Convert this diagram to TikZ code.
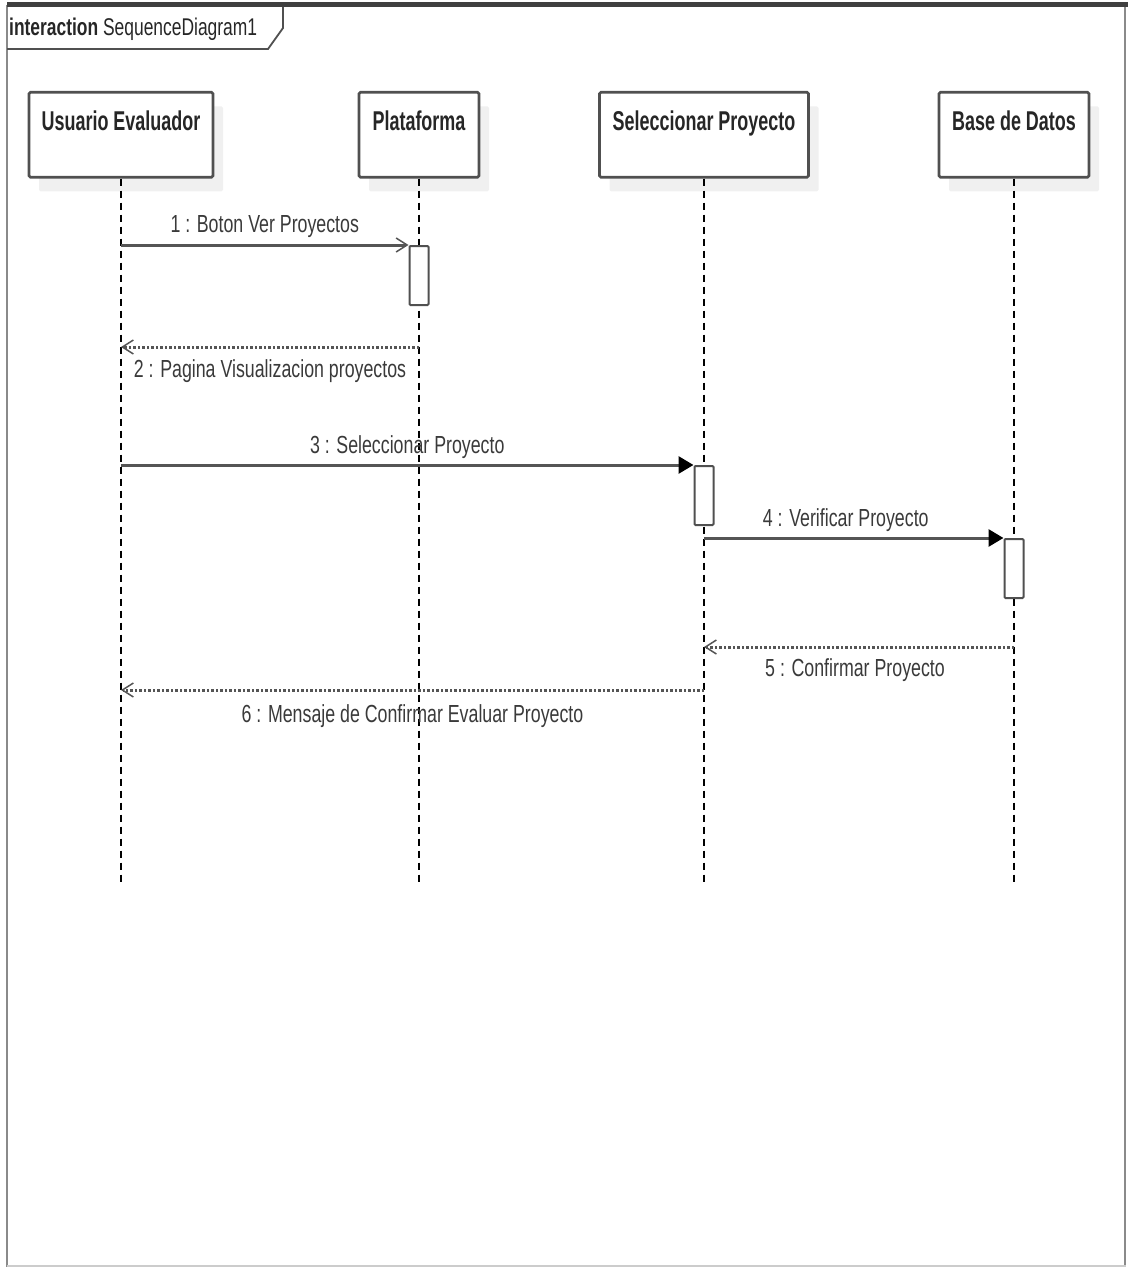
\documentclass[tikz,border=0pt]{standalone}
\usepackage{fontspec}
\setmainfont{Liberation Sans}[FakeStretch=0.72]
\newfontfamily\namefont{Liberation Sans}[FakeStretch=0.66]
\usetikzlibrary{arrows.meta,shadows}
\definecolor{linegray}{HTML}{505050}
\definecolor{msggray}{HTML}{555555}
\definecolor{textgray}{HTML}{3A3A3A}
\definecolor{framegray}{HTML}{8A8A8A}
\definecolor{barcol}{HTML}{3F3F3F}
\begin{document}
\begin{tikzpicture}[x=1pt,y=-1pt,
  head/.style={draw=linegray, line width=2.6pt, rounded corners=1.5pt, fill=white,
    drop shadow={shadow xshift=10pt, shadow yshift=-14pt, fill=black!6, opacity=1},
    inner xsep=0pt, inner ysep=4pt, text height=34pt, text depth=43pt, anchor=north,
    font=\namefont\fontsize{27.2}{30}\selectfont\bfseries, text=black!85},
  act/.style={draw=linegray, line width=2pt, rounded corners=1pt, fill=white,
    anchor=north, minimum width=19pt, minimum height=59pt, inner sep=0pt},
  lifeline/.style={draw=black, line width=1.1pt, dash pattern=on 7pt off 5pt},
  callopen/.style={draw=msggray, line width=3pt, -{Straight Barb[length=11pt,width=14pt,line width=1.5pt]}},
  callfill/.style={draw=msggray, line width=3pt, -{Triangle[length=15pt,width=17pt,fill=black,color=black]}},
  reply/.style={draw=msggray, line width=3pt, dash pattern=on 2.5pt off 2pt,
    -{Straight Barb[length=11pt,width=14pt,line width=1.5pt]}},
  lab/.style={anchor=base, font=\fontsize{24.7}{28}\selectfont, text=textgray, inner sep=0pt},
]
\useasboundingbox (0,0) rectangle (1137,1268);

% frame
\draw[framegray, line width=1.4pt] (7,5) -- (7,1267);
\draw[framegray, line width=2.4pt] (1125,5) -- (1125,1267);
\draw[black!20, line width=2pt] (7,1266) -- (1126,1266);
\draw[barcol, line width=5pt] (7,5) -- (1128,5);
\draw[linegray, line width=1.8pt] (283,7) -- (283,28) -- (268,49) -- (7,49);
\node[anchor=base west, inner sep=0pt, font=\fontsize{24.2}{28}\selectfont, text=black!85] (tab) at (9,36)
  {\textbf{interaction} SequenceDiagram1};

% lifeline heads
\node[head, minimum width=184pt] (ue) at (121,91) {Usuario Evaluador};
\node[head, minimum width=120pt] (pl) at (419,91) {Plataforma};
\node[head, minimum width=209pt] (sp) at (704,91) {Seleccionar Proyecto};
\node[head, minimum width=150pt] (bd) at (1014,91) {Base de Datos};

\coordinate (yend) at (0,885);
\foreach \n in {ue,pl,sp,bd} {
  \draw[lifeline] (\n.south) -- (\n.south |- yend);
}

% activations
\node[act] (a1) at (419,245) {};
\node[act] (a2) at (704,465) {};
\node[act] (a3) at (1014,538) {};

\coordinate (y2) at (0,347);
\coordinate (y5) at (0,647);
\coordinate (y6) at (0,690);

% messages
\draw[callopen] (ue.south |- a1.north) -- node[lab, yshift=12pt] {1 : Boton Ver Proyectos} (a1.north west);
\draw[reply] (pl.south |- y2) -- node[lab, yshift=-30pt] {2 : Pagina Visualizacion proyectos} (ue.south |- y2);
\draw[callfill] (ue.south |- a2.north) -- node[lab, yshift=12pt] {3 : Seleccionar Proyecto} (a2.north west);
\draw[callfill] (sp.south |- a3.north) -- node[lab, yshift=12pt, xshift=-8pt] {4 : Verificar Proyecto} (a3.north west);
\draw[reply] (bd.south |- y5) -- node[lab, yshift=-29pt, xshift=-4pt] {5 : Confirmar Proyecto} (sp.south |- y5);
\draw[reply] (sp.south |- y6) -- node[lab, yshift=-32pt] {6 : Mensaje de Confirmar Evaluar Proyecto} (ue.south |- y6);
\end{tikzpicture}
\end{document}
